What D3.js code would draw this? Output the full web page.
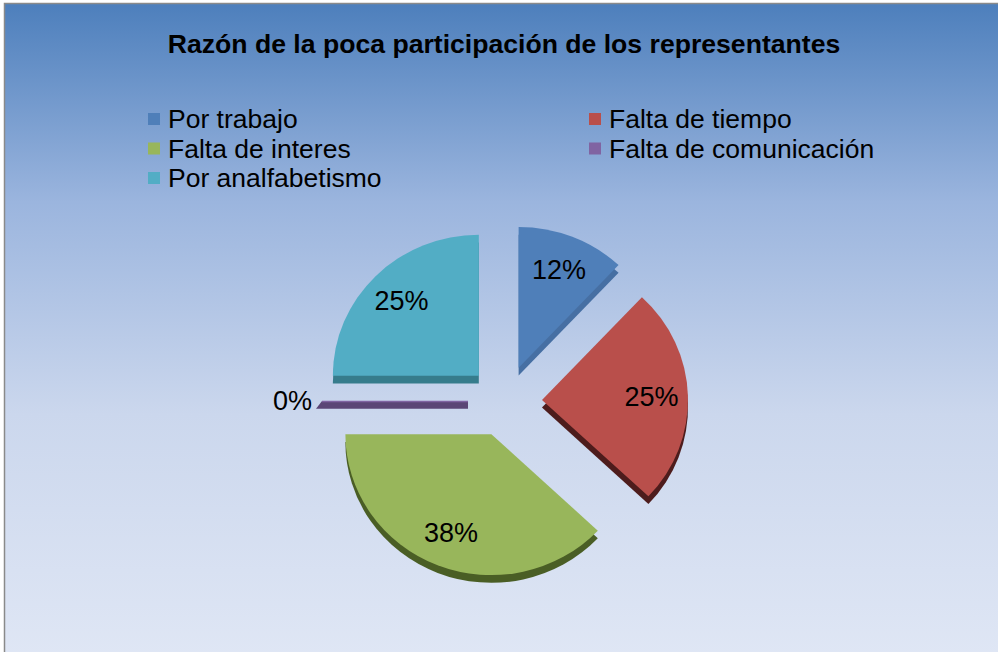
<!DOCTYPE html>
<html>
  <head>
    <title>Razón de la poca participación</title>
    <style>
      body { margin: 0; }
      svg { display: block; font-family: 'Liberation Sans', Arial, sans-serif; }
    </style>
  </head>
  <body>
    <svg id='piechart'></svg>
  </body>
  <script type="text/javascript" src="https://cdn.jsdelivr.net/npm/d3@7"></script>
  <script type="text/javascript">
    const title = 'Razón de la poca participación de los representantes';
    const categories = ['Por trabajo', 'Falta de tiempo', 'Falta de interes', 'Falta de comunicación', 'Por analfabetismo'];
    const percents = [12, 25, 38, 0, 25];

    const topColors = ['#4f7fb9', '#b94f4b', '#98b65b', '#8064a2', '#52adc5'];
    const sideColors = ['#466fa3', '#4d1c1c', '#4a5e25', '#5b4676', '#367c8c'];

    const [width, height] = [998, 652];
    var svg = d3.select('#piechart')
      .attr('width', width)
      .attr('height', height)

    // fondo degradado
    var grad = svg.append('defs').append('linearGradient')
      .attr('id', 'bg')
      .attr('x1', 0).attr('y1', 0).attr('x2', 0).attr('y2', 1)
    grad.append('stop').attr('offset', '0%').attr('stop-color', '#4d7fbc')
    grad.append('stop').attr('offset', '30%').attr('stop-color', '#9bb5de')
    grad.append('stop').attr('offset', '62%').attr('stop-color', '#cbd7ed')
    grad.append('stop').attr('offset', '100%').attr('stop-color', '#e0e7f5')

    svg.append('rect')
      .attr('x', 4.5).attr('y', 3.5)
      .attr('width', width + 10).attr('height', height + 10)
      .attr('fill', 'url(#bg)')
      .attr('stroke', '#8a8a8a')
      .attr('stroke-width', 1.5)

    svg.append('text')
      .attr('x', 504)
      .attr('y', 53)
      .attr('text-anchor', 'middle')
      .style('font-weight', 'bold')
      .style('font-size', '26.6px')
      .text(title)

    // leyenda
    var legend = svg.append('g')
      .selectAll('g')
      .data(categories)
      .enter()
      .append('g')
      .attr('transform', function(d, i) {
        return 'translate(' + (148 + (i % 2) * 441) + ',' + (119 + Math.floor(i / 2) * 29.5) + ')'
      });
    legend.append('rect')
      .attr('x', 0).attr('y', -6)
      .attr('width', 12).attr('height', 12)
      .attr('fill', (d, i) => topColors[i]);
    legend.append('text')
      .attr('x', 20)
      .attr('dy', '0.35em')
      .style('font-size', '26.5px')
      .text(d => d);

    // pastel
    var radius = 146, explode = 37, depth = 8
    var cx = 505, cy = 401

    var drawData = d3.pie()
      .sort(null)
      .value(d => d)
      .startAngle(0)
      .endAngle(Math.PI * 2)(percents)

    var arc = d3.arc().innerRadius(0).outerRadius(radius)

    // ligera inclinación vertical
    var g = svg.append('g')
      .attr('transform', 'translate(' + cx + ',' + cy + ') scale(1,0.965)')

    var slices = g.selectAll('g.slice')
      .data(drawData)
      .enter()
      .append('g')
      .attr('class', 'slice')
      .attr('transform', function(d) {
        var a = (d.startAngle + d.endAngle) / 2
        return 'translate(' + (explode * Math.sin(a)) + ',' + (-explode * Math.cos(a)) + ')'
      })

    slices.each(function(d) {
      var s = d3.select(this)
      if (d.endAngle - d.startAngle > 0) {
        s.append('path')
          .attr('transform', 'translate(0,' + depth + ')')
          .attr('d', arc(d))
          .attr('fill', sideColors[d.index])
        s.append('path')
          .attr('d', arc(d))
          .attr('fill', topColors[d.index])
      } else {
        // porción vacía: solo la pared lateral
        var a = d.startAngle
        var ex = radius * Math.sin(a), ey = -radius * Math.cos(a)
        s.append('path')
          .attr('d', 'M0,0L' + ex + ',' + ey + 'l-6,' + depth + 'L0,' + depth + 'Z')
          .attr('fill', sideColors[d.index])
        s.append('line')
          .attr('x1', 0).attr('y1', 0.5).attr('x2', ex).attr('y2', ey + 0.5)
          .attr('stroke', topColors[d.index])
          .attr('stroke-width', 1.5)
      }
    })

    // etiquetas
    slices.append('text')
      .attr('transform', function(d) {
        var a = (d.startAngle + d.endAngle) / 2
        var r = d.value > 0 ? radius * 0.75 : radius + 10
        return 'translate(' + (r * Math.sin(a)) + ',' + (-r * Math.cos(a)) + ') scale(1,' + (1 / 0.965) + ')'
      })
      .attr('text-anchor', d => d.value > 0 ? 'middle' : 'end')
      .attr('dy', '0.35em')
      .style('font-size', '27px')
      .text(d => d.value + '%')
  </script>
</html>
